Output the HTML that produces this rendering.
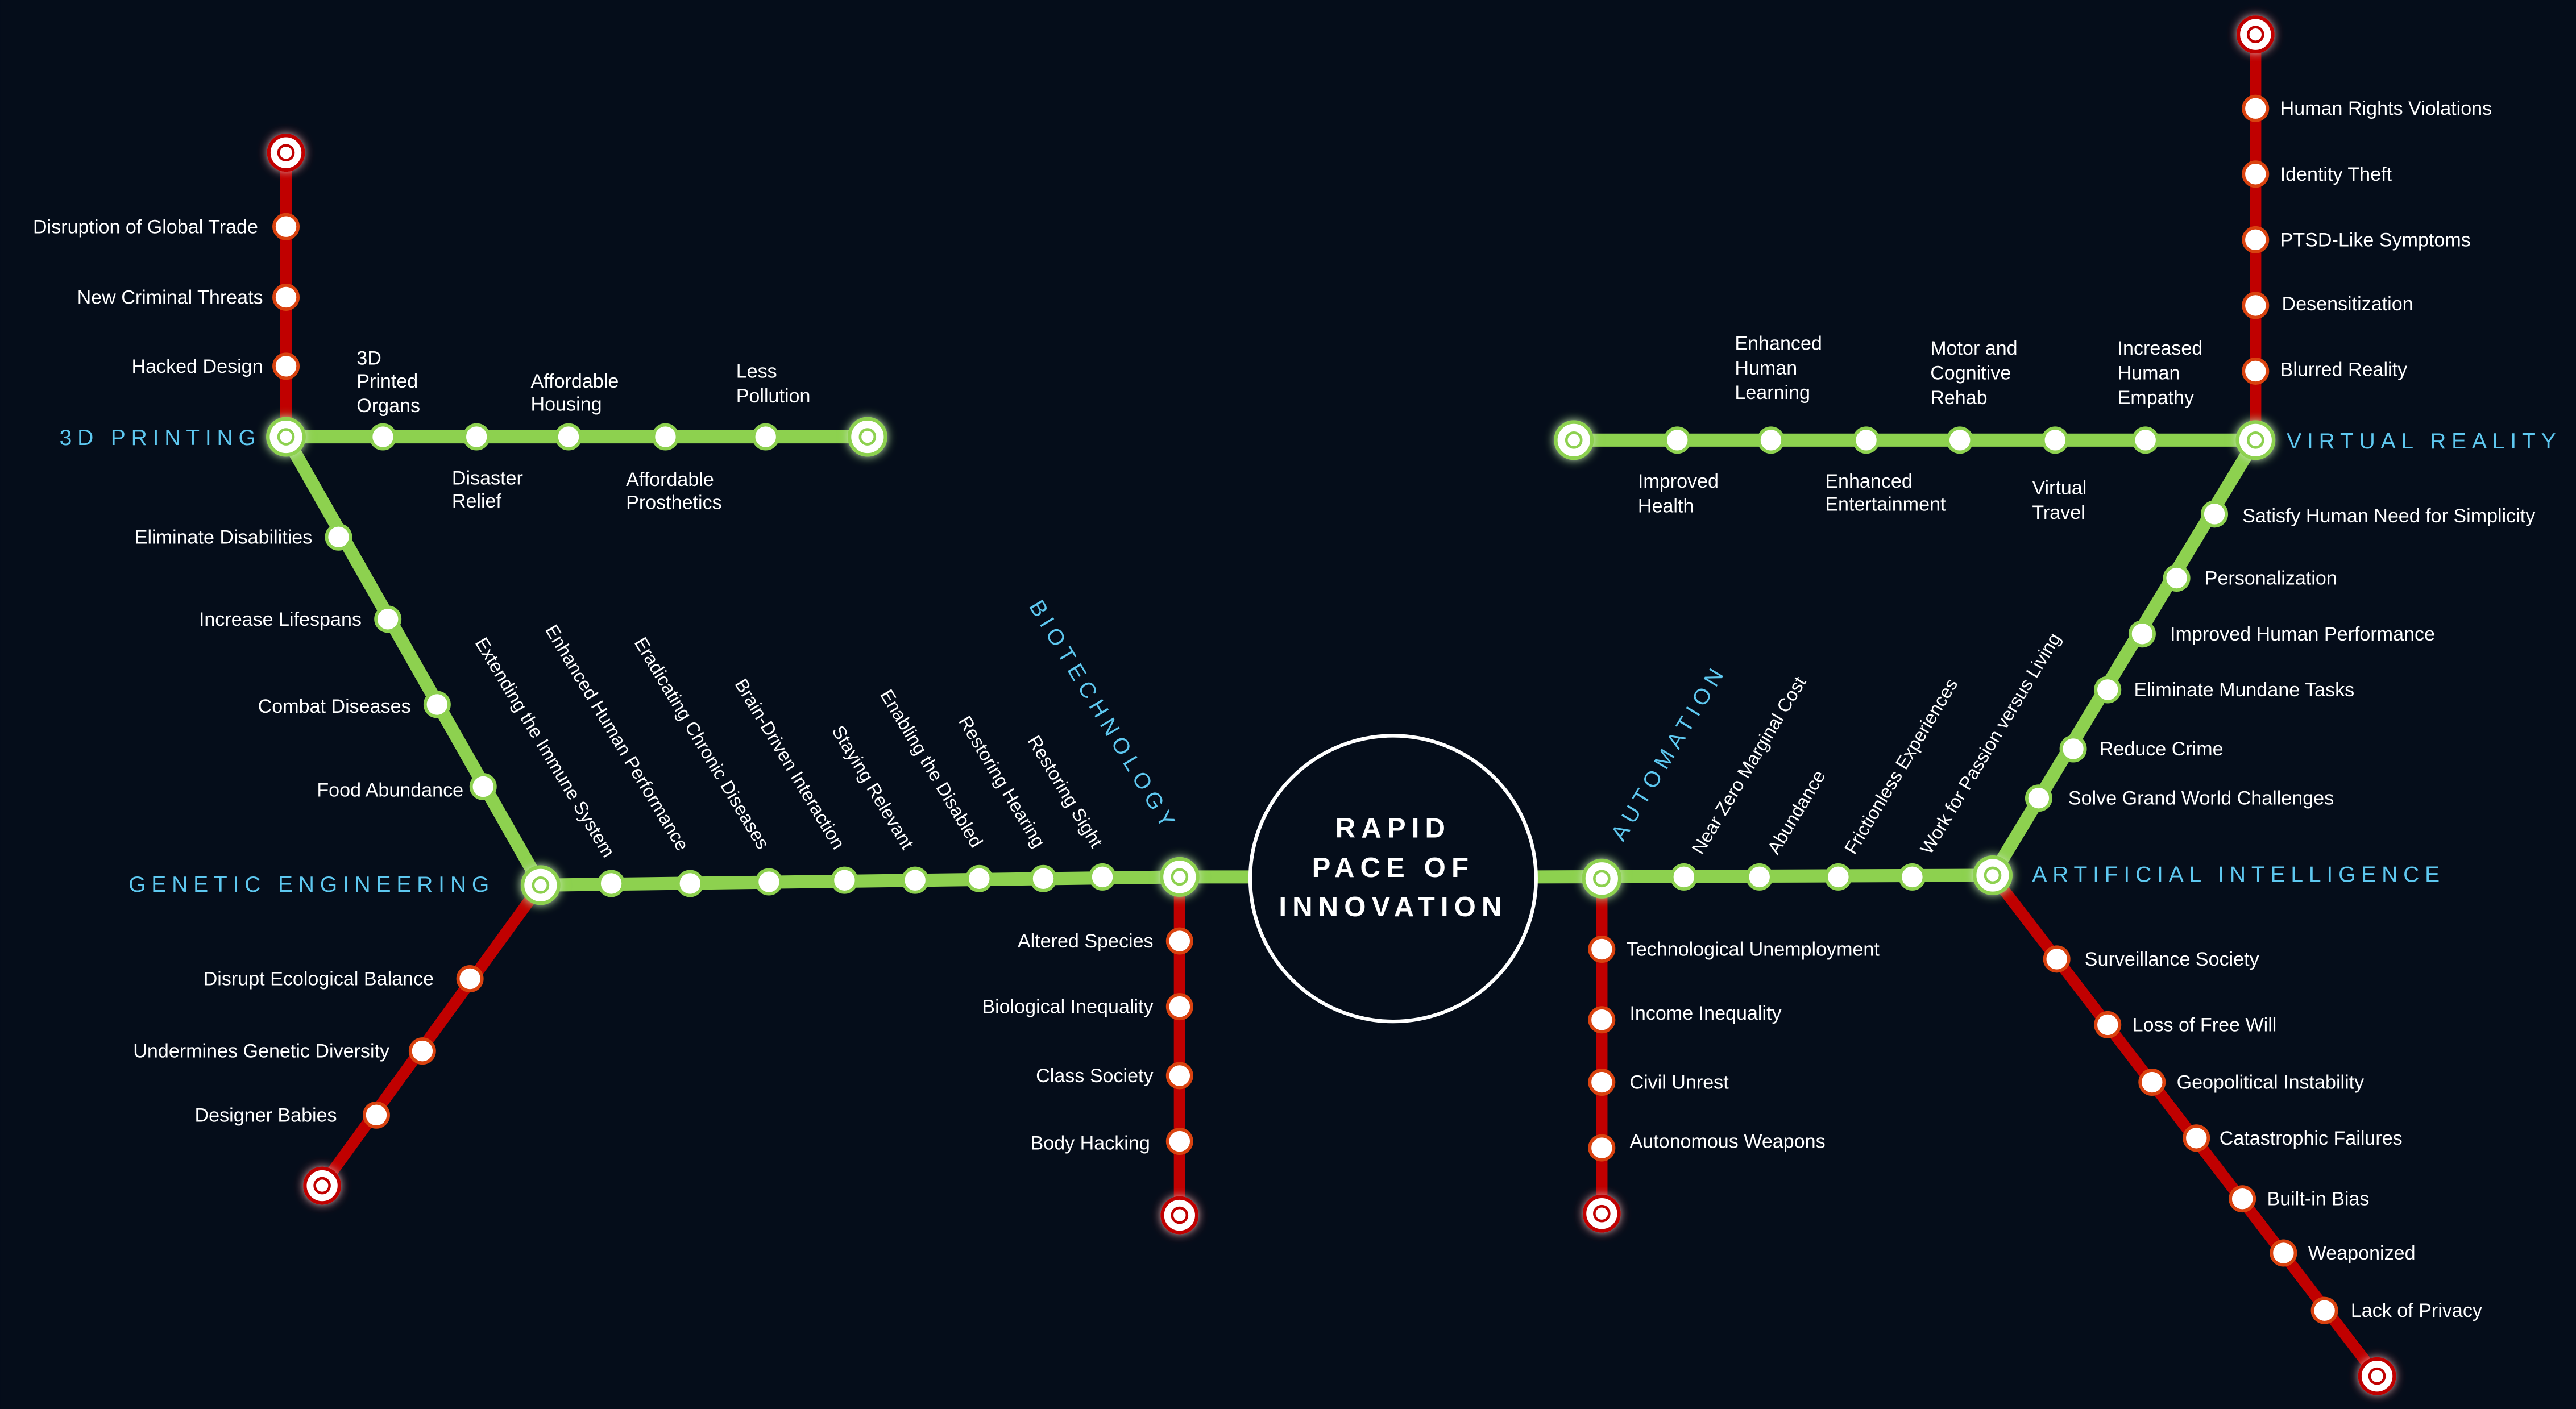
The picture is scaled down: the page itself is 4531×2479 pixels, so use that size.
<!DOCTYPE html>
<html><head><meta charset="utf-8"><style>
html,body{margin:0;padding:0;background:#050d1a;}
svg{display:block;}
text{font-family:"Liberation Sans",sans-serif;fill:#fff;font-size:11.8px;}
.h{fill:#5ec8f0;font-size:13.5px;letter-spacing:3.4px;}
.r{font-size:11.3px;}
.c{font-size:17px;font-weight:bold;letter-spacing:3.5px;}
</style></head><body>
<svg width="4531" height="2479" viewBox="0 0 1568 858" xmlns="http://www.w3.org/2000/svg">
<defs>
<filter id="gl" x="-1" y="-1" width="3" height="3"><feGaussianBlur stdDeviation="3" result="b"/><feMerge><feMergeNode in="b"/><feMergeNode in="SourceGraphic"/></feMerge></filter>
<g id="gs"><circle r="7.3" fill="#fff" stroke="#8dd14f" stroke-width="2"/></g>
<g id="rs"><circle r="7.3" fill="#fff" stroke="#d9420f" stroke-width="2"/></g>
<g id="gh"><circle r="11" fill="#fff" stroke="#8dd14f" stroke-width="2.2" filter="url(#gl)"/><circle r="4.5" fill="none" stroke="#8dd14f" stroke-width="1.6"/></g>
<g id="rh"><circle r="10.5" fill="#fff" stroke="#c00000" stroke-width="2.2" filter="url(#gl)"/><circle r="4.5" fill="none" stroke="#c00000" stroke-width="1.6"/></g>
</defs>
<rect width="1568" height="858" fill="#050d1a"/>
<g stroke="#c00000" stroke-width="7" fill="none">
<line x1="174" y1="93" x2="174" y2="266"/>
<line x1="329" y1="539" x2="196" y2="722"/>
<line x1="718" y1="534" x2="718" y2="740"/>
<line x1="975" y1="535" x2="975" y2="739"/>
<line x1="1213" y1="533" x2="1447" y2="838"/>
<line x1="1373" y1="21" x2="1373" y2="268"/>
</g>
<g stroke="#8dd14f" stroke-width="8" fill="none">
<line x1="174" y1="266" x2="528" y2="266"/>
<line x1="174" y1="266" x2="329" y2="539"/>
<line x1="329" y1="539" x2="718" y2="534"/>
<line x1="718" y1="534" x2="762" y2="534"/>
<line x1="934" y1="534" x2="1213" y2="533"/>
<line x1="1213" y1="533" x2="1373" y2="268"/>
<line x1="958" y1="268" x2="1373" y2="268"/>
</g>
<circle cx="848" cy="535" r="87" fill="#050d1a" stroke="#fff" stroke-width="2.2"/>
<text class="c" x="848" y="510" text-anchor="middle">RAPID</text>
<text class="c" x="848" y="534" text-anchor="middle">PACE OF</text>
<text class="c" x="848" y="558" text-anchor="middle">INNOVATION</text>

<use href="#rs" x="174" y="138"/><use href="#rs" x="174" y="181"/><use href="#rs" x="174" y="223"/>
<use href="#gs" x="233" y="266"/><use href="#gs" x="290" y="266"/><use href="#gs" x="346" y="266"/><use href="#gs" x="405" y="266"/><use href="#gs" x="466" y="266"/>
<use href="#gs" x="206" y="327"/><use href="#gs" x="236" y="377"/><use href="#gs" x="266" y="429"/><use href="#gs" x="294" y="479"/>
<use href="#rs" x="286" y="596"/><use href="#rs" x="257" y="640"/><use href="#rs" x="229" y="679"/>
<use href="#gs" x="372" y="538"/><use href="#gs" x="420" y="538"/><use href="#gs" x="468" y="537"/><use href="#gs" x="514" y="536"/><use href="#gs" x="557" y="536"/><use href="#gs" x="596" y="535"/><use href="#gs" x="635" y="535"/><use href="#gs" x="671" y="534"/>
<use href="#rs" x="718" y="573"/><use href="#rs" x="718" y="613"/><use href="#rs" x="718" y="655"/><use href="#rs" x="718" y="695"/>
<use href="#rs" x="975" y="578"/><use href="#rs" x="975" y="621"/><use href="#rs" x="975" y="659"/><use href="#rs" x="975" y="699"/>
<use href="#gs" x="1025" y="534"/><use href="#gs" x="1071" y="534"/><use href="#gs" x="1119" y="534"/><use href="#gs" x="1164" y="534"/>
<use href="#rs" x="1252" y="584"/><use href="#rs" x="1283" y="624"/><use href="#rs" x="1310" y="659"/><use href="#rs" x="1337" y="693"/><use href="#rs" x="1365" y="730"/><use href="#rs" x="1390" y="763"/><use href="#rs" x="1415" y="798"/>
<use href="#gs" x="1241" y="486"/><use href="#gs" x="1262" y="456"/><use href="#gs" x="1283" y="420"/><use href="#gs" x="1304" y="386"/><use href="#gs" x="1325" y="352"/><use href="#gs" x="1348" y="313"/>
<use href="#rs" x="1373" y="66"/><use href="#rs" x="1373" y="106"/><use href="#rs" x="1373" y="146"/><use href="#rs" x="1373" y="186"/><use href="#rs" x="1373" y="226"/>
<use href="#gs" x="1021" y="268"/><use href="#gs" x="1078" y="268"/><use href="#gs" x="1136" y="268"/><use href="#gs" x="1193" y="268"/><use href="#gs" x="1251" y="268"/><use href="#gs" x="1306" y="268"/>

<use href="#rh" x="174" y="93"/><use href="#rh" x="196" y="722"/><use href="#rh" x="718" y="740"/><use href="#rh" x="975" y="739"/><use href="#rh" x="1447" y="838"/><use href="#rh" x="1373" y="21"/>
<use href="#gh" x="174" y="266"/><use href="#gh" x="528" y="266"/><use href="#gh" x="329" y="539"/><use href="#gh" x="718" y="534"/><use href="#gh" x="975" y="535"/><use href="#gh" x="1213" y="533"/><use href="#gh" x="1373" y="268"/><use href="#gh" x="958" y="268"/>

<text class="h" x="159" y="271" text-anchor="end">3D PRINTING</text>
<text class="h" x="301" y="543" text-anchor="end">GENETIC ENGINEERING</text>
<text class="h" x="1237" y="537">ARTIFICIAL INTELLIGENCE</text>
<text class="h" x="1392" y="273">VIRTUAL REALITY</text>
<text class="h" transform="translate(626,369) rotate(59)">BIOTECHNOLOGY</text>
<text class="h" transform="translate(988,513) rotate(-59)">AUTOMATION</text>

<g text-anchor="end">
<text x="157" y="142">Disruption of Global Trade</text>
<text x="160" y="185">New Criminal Threats</text>
<text x="160" y="227">Hacked Design</text>
<text x="190" y="331">Eliminate Disabilities</text>
<text x="220" y="381">Increase Lifespans</text>
<text x="250" y="434">Combat Diseases</text>
<text x="282" y="485">Food Abundance</text>
<text x="264" y="600">Disrupt Ecological Balance</text>
<text x="237" y="644">Undermines Genetic Diversity</text>
<text x="205" y="683">Designer Babies</text>
<text x="702" y="577">Altered Species</text>
<text x="702" y="617">Biological Inequality</text>
<text x="702" y="659">Class Society</text>
<text x="700" y="700">Body Hacking</text>
</g>
<text x="217" y="222">3D</text><text x="217" y="236">Printed</text><text x="217" y="251">Organs</text>
<text x="323" y="236">Affordable</text><text x="323" y="250">Housing</text>
<text x="448" y="230">Less</text><text x="448" y="245">Pollution</text>
<text x="275" y="295">Disaster</text><text x="275" y="309">Relief</text>
<text x="381" y="296">Affordable</text><text x="381" y="310">Prosthetics</text>

<g text-anchor="end" class="r">
<text class="r" transform="translate(368,523) rotate(59)">Extending the Immune System</text>
<text class="r" transform="translate(413,519) rotate(59)">Enhanced Human Performance</text>
<text class="r" transform="translate(462,518) rotate(59)">Eradicating Chronic Diseases</text>
<text class="r" transform="translate(508,518) rotate(59)">Brain-Driven Interaction</text>
<text class="r" transform="translate(550,518) rotate(59)">Staying Relevant</text>
<text class="r" transform="translate(592,517) rotate(59)">Enabling the Disabled</text>
<text class="r" transform="translate(630,517) rotate(59)">Restoring Hearing</text>
<text class="r" transform="translate(665,517) rotate(59)">Restoring Sight</text>
</g>
<text x="990" y="582">Technological Unemployment</text>
<text x="992" y="621">Income Inequality</text>
<text x="992" y="663">Civil Unrest</text>
<text x="992" y="699">Autonomous Weapons</text>
<text class="r" transform="translate(1036,521) rotate(-59)">Near Zero Marginal Cost</text>
<text class="r" transform="translate(1082,521) rotate(-59)">Abundance</text>
<text class="r" transform="translate(1129,521) rotate(-59)">Frictionless Experiences</text>
<text class="r" transform="translate(1175,521) rotate(-59)">Work for Passion versus Living</text>
<text x="1269" y="588">Surveillance Society</text>
<text x="1298" y="628">Loss of Free Will</text>
<text x="1325" y="663">Geopolitical Instability</text>
<text x="1351" y="697">Catastrophic Failures</text>
<text x="1380" y="734">Built-in Bias</text>
<text x="1405" y="767">Weaponized</text>
<text x="1431" y="802">Lack of Privacy</text>
<text x="1259" y="490">Solve Grand World Challenges</text>
<text x="1278" y="460">Reduce Crime</text>
<text x="1299" y="424">Eliminate Mundane Tasks</text>
<text x="1321" y="390">Improved Human Performance</text>
<text x="1342" y="356">Personalization</text>
<text x="1365" y="318">Satisfy Human Need for Simplicity</text>
<text x="1388" y="70">Human Rights Violations</text>
<text x="1388" y="110">Identity Theft</text>
<text x="1388" y="150">PTSD-Like Symptoms</text>
<text x="1389" y="189">Desensitization</text>
<text x="1388" y="229">Blurred Reality</text>
<text x="1056" y="213">Enhanced</text><text x="1056" y="228">Human</text><text x="1056" y="243">Learning</text>
<text x="1175" y="216">Motor and</text><text x="1175" y="231">Cognitive</text><text x="1175" y="246">Rehab</text>
<text x="1289" y="216">Increased</text><text x="1289" y="231">Human</text><text x="1289" y="246">Empathy</text>
<text x="997" y="297">Improved</text><text x="997" y="312">Health</text>
<text x="1111" y="297">Enhanced</text><text x="1111" y="311">Entertainment</text>
<text x="1237" y="301">Virtual</text><text x="1237" y="316">Travel</text>
</svg>
</body></html>
